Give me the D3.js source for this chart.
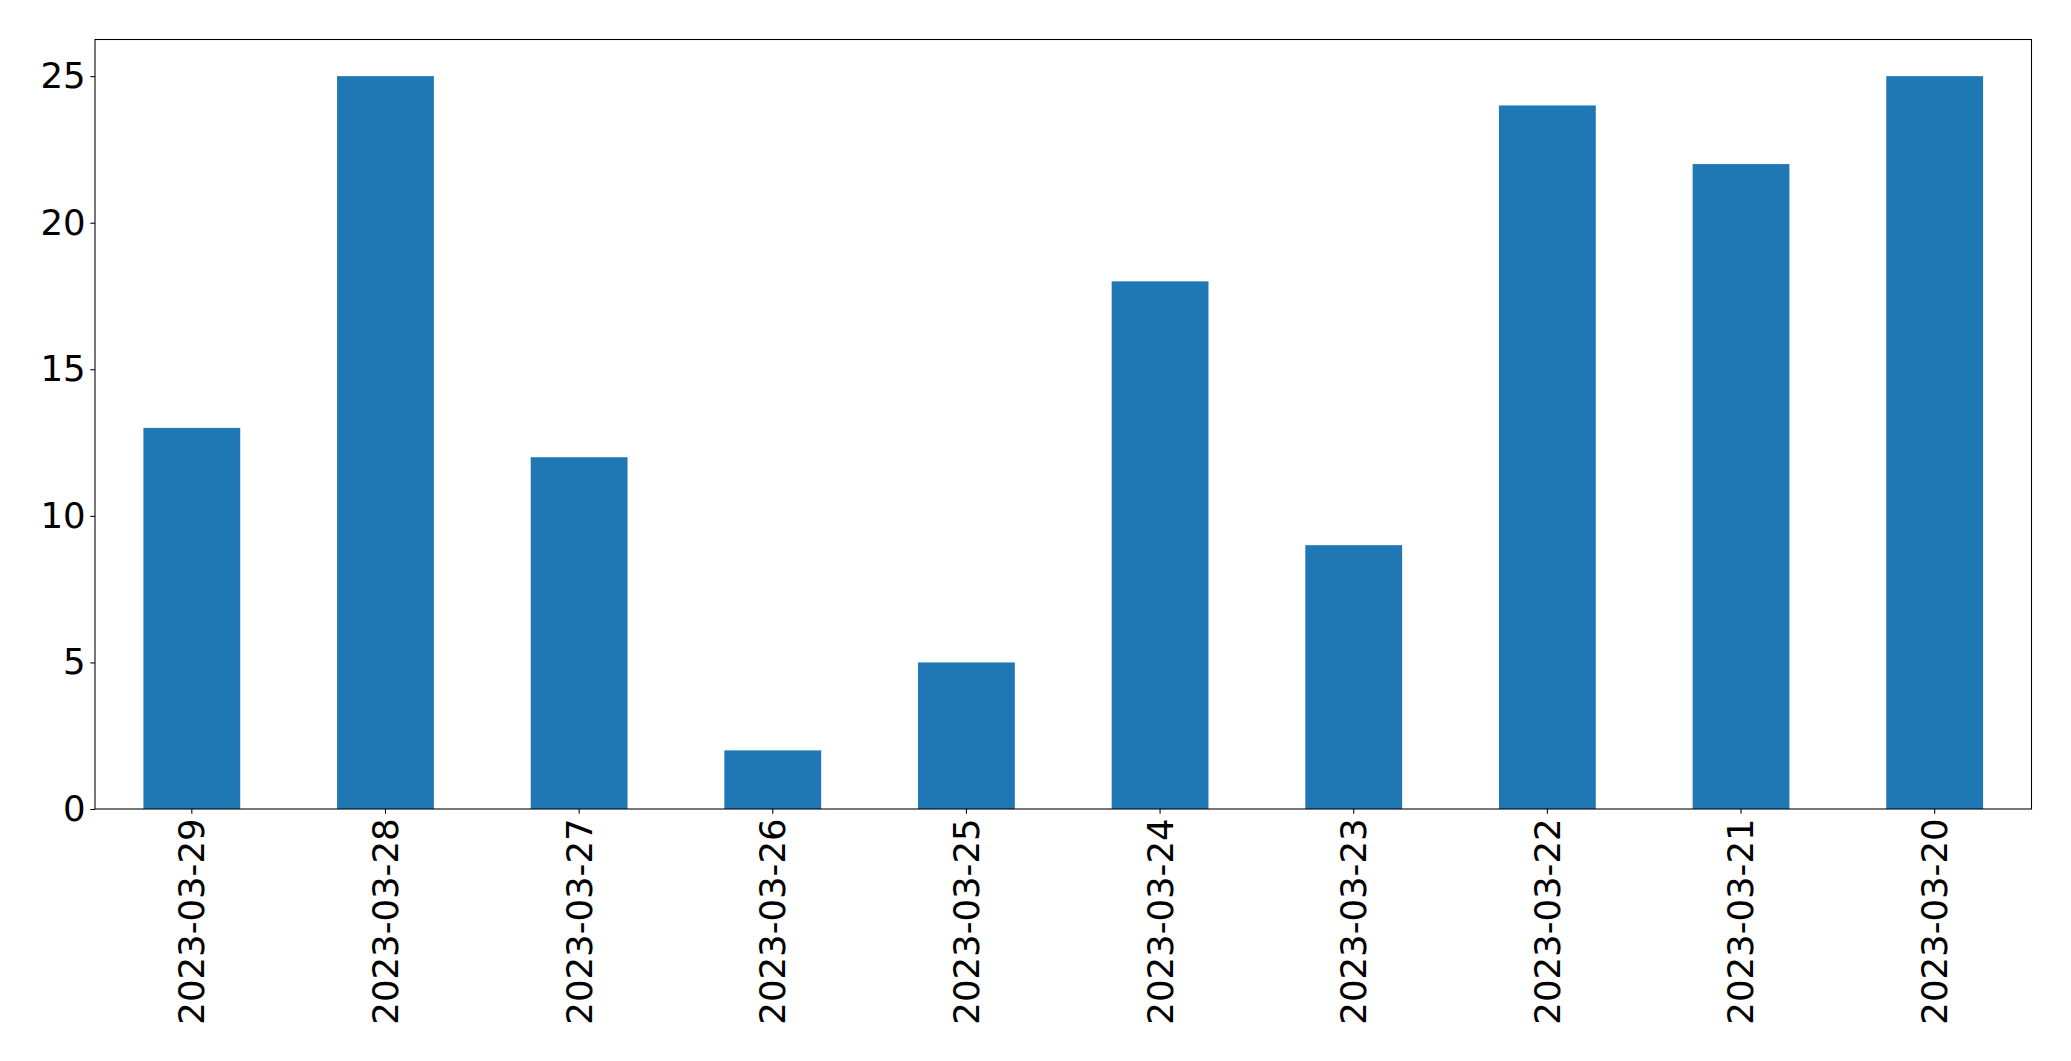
<!DOCTYPE html>
<html><head><meta charset="utf-8">
<script src="https://cdn.jsdelivr.net/npm/d3@7"></script>
<style>body{margin:0;background:#fff}svg{display:block}</style>
</head><body>
<script>
const categories = ["2023-03-29","2023-03-28","2023-03-27","2023-03-26","2023-03-25","2023-03-24","2023-03-23","2023-03-22","2023-03-21","2023-03-20"];
const values = [13,25,12,2,5,18,9,24,22,25];
const yTicks = [0,5,10,15,20,25];

const W = 2071, H = 1061;
const m = {left:95, top:39.5, right:2071-2031.5, bottom:1061-809};
const iw = W - m.left - m.right, ih = H - m.top - m.bottom;
const fontSize = 35.5;

const svg = d3.select("body").append("svg").attr("width",W).attr("height",H);
const g = svg.append("g").attr("transform",`translate(${m.left},${m.top})`);

const x = d3.scaleBand().domain(categories).range([0,iw]).paddingInner(0.5).paddingOuter(0.25);
const y = d3.scaleLinear().domain([0, 25*1.05]).range([ih,0]);

g.selectAll("rect.bar").data(values).join("rect").attr("class","bar")
  .attr("x",(d,i)=>x(categories[i])).attr("width",x.bandwidth())
  .attr("y",d=>y(d)).attr("height",d=>y(0)-y(d)).attr("fill","#1f77b4");

const yAxis = g.append("g").call(d3.axisLeft(y).tickValues(yTicks).tickSize(4.7).tickPadding(4.7).tickFormat(d3.format("d")));
const xAxis = g.append("g").attr("transform",`translate(0,${ih})`).call(d3.axisBottom(x).tickSize(4.7).tickPadding(4.7));
[yAxis,xAxis].forEach(a=>{
  a.select(".domain").remove();
  a.selectAll("line").attr("stroke","#000").attr("stroke-width",1.07);
  a.selectAll("text").attr("fill","#000").style("font-family","DejaVu Sans").style("font-size",fontSize+"px");
});
xAxis.selectAll("text").attr("transform","rotate(-90)").attr("text-anchor","end")
  .attr("x",-9.4).attr("y",0).attr("dy","0.35em");

g.append("rect").attr("x",0).attr("y",0).attr("width",iw).attr("height",ih)
  .attr("fill","none").attr("stroke","#000").attr("stroke-width",1.07);
</script>
</body></html>
